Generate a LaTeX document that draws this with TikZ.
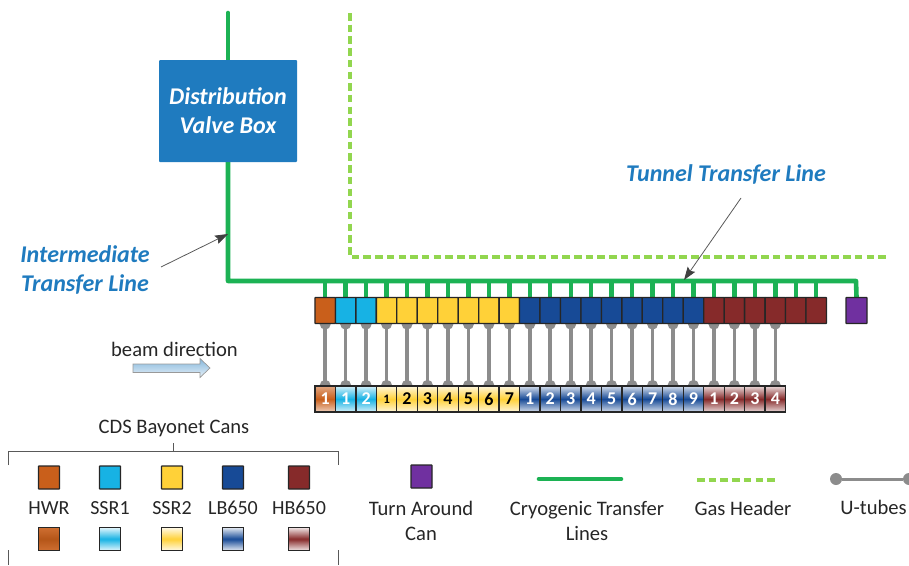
\documentclass[tikz,border=0pt]{standalone}
\usepackage{fontspec}
\setmainfont{Carlito}
\usetikzlibrary{backgrounds,arrows.meta}
\definecolor{cH}{HTML}{C95F1B}
\definecolor{cS}{HTML}{17B2E4}
\definecolor{cY}{HTML}{FFD138}
\definecolor{cL}{HTML}{174A96}
\definecolor{cR}{HTML}{862A2A}
\definecolor{cP}{HTML}{7030A0}
\definecolor{cG}{HTML}{1CB254}
\definecolor{cD}{HTML}{92D64F}
\definecolor{cB}{HTML}{1F7BBF}
\definecolor{cU}{HTML}{8C8C8C}
\definecolor{cT}{HTML}{262626}
\tikzset{
  x=1pt,y=-1pt,
  cantop/.style={draw=black!85,line width=1.3pt,minimum width=20.46pt,minimum height=26pt,inner sep=0pt,rounded corners=0.5pt,fill=#1},
  canbot/.style={draw=black!85,line width=1.3pt,minimum width=20.46pt,minimum height=26pt,inner sep=0pt,top color=#1!18,bottom color=#1!18,middle color=#1},
  hwrbot/.style={draw=black!85,line width=1.3pt,minimum width=20.46pt,minimum height=26pt,inner sep=0pt,top color=cH!55,bottom color=cH!30,middle color=cH},
  legtop/.style={draw=black!85,line width=1.3pt,minimum width=21pt,minimum height=23pt,inner sep=0pt,rounded corners=0.5pt,fill=#1},
  legbot/.style={draw=black!85,line width=1.3pt,minimum width=21pt,minimum height=23pt,inner sep=0pt,top color=#1!12,bottom color=#1!12,middle color=#1},
  cryo/.style={draw=cG,line width=4.6pt,line cap=round,line join=round},
  stub/.style={draw=cG,line width=4.4pt},
  gas/.style={draw=cD,line width=3.8pt,dash pattern=on 7.5pt off 4.2pt},
  gasleg/.style={draw=cD,line width=3.2pt,dash pattern=on 7.5pt off 4.2pt},
  utube/.style={draw=cU,line width=3.6pt},
  utubeleg/.style={draw=cU,line width=3pt},
  udot/.style={circle,fill=cU,minimum size=12pt,inner sep=0pt},
  pointer/.style={draw=black!65,line width=0.8pt,-{Stealth[length=13pt,width=9pt,inset=2pt,color=black!75]}},
  bluelab/.style={text=cB,font=\fontsize{24}{24}\selectfont\bfseries\itshape,inner sep=0pt},
  legtext/.style={text=cT,font=\fontsize{20.6}{25}\selectfont,align=center,inner sep=0pt},
  cantext/.style={text=cT,font=\fontsize{20}{24}\selectfont,inner sep=0pt},
  bracket/.style={draw=black!65,line width=1pt},
  numw/.style={text=white,font=\fontsize{18}{18}\selectfont\bfseries},
  numb/.style={text=black,font=\fontsize{18}{18}\selectfont\bfseries},
}
\begin{document}
\begin{tikzpicture}
\useasboundingbox (0,0) rectangle (909,565);
% main distribution
\node[fill=cB,minimum width=138pt,minimum height=102pt,inner sep=0pt,rounded corners=1pt] (dvb) at (228,111) {};
\node[text=white,font=\fontsize{24}{29}\selectfont\bfseries\itshape,align=center,inner sep=0pt] (dvbt) at (228,111) {Distribution\\Valve Box};
\coordinate (cryotop) at (228,13);
\coordinate (cryocorner) at (228,281);
\coordinate (cryoend) at (856,281);
\coordinate (gastop) at (350,13);
\coordinate (gascorner) at (350,257);
\coordinate (gasend) at (889,257);
\draw[gas] (gastop) -- (gascorner) -- (gasend);
% cans
\foreach \i/\c/\s/\n in {0/cH/numw/1,1/cS/numw/1,2/cS/numw/2,3/cY/numb/1,4/cY/numb/2,5/cY/numb/3,6/cY/numb/4,7/cY/numb/5,8/cY/numb/6,9/cY/numb/7,10/cL/numw/1,11/cL/numw/2,12/cL/numw/3,13/cL/numw/4,14/cL/numw/5,15/cL/numw/6,16/cL/numw/7,17/cL/numw/8,18/cL/numw/9,19/cR/numw/1,20/cR/numw/2,21/cR/numw/3,22/cR/numw/4}{
  \pgfmathsetmacro{\xx}{325.2+20.46*\i}
  \node[cantop=\c] (t\i) at (\xx,310.5) {};
  \ifnum\i=0
    \node[hwrbot,\s] (b\i) at (\xx,399) {\n};
  \else\ifnum\i=3
    \node[canbot=\c,\s,font=\fontsize{13}{13}\selectfont\bfseries] (b\i) at (\xx,399) {\n};
  \else
    \node[canbot=\c,\s] (b\i) at (\xx,399) {\n};
  \fi\fi
}
\node[cantop=cR] (t23) at (325.2+20.46*23,310.5) {};
\node[cantop=cR] (t24) at (325.2+20.46*24,310.5) {};
\node[cantop=cP,minimum width=21pt] (tac) at (856.5,310.5) {};
% connectors behind cans
\begin{scope}[on background layer]
\foreach \i in {0,...,22}{
  \draw[utube] (t\i.south) -- (b\i.north);
  \fill[cU] (t\i.south) circle (5.5pt);
  \fill[cU] (b\i.north) circle (5.5pt);
}
\foreach \i in {0,...,24}{
  \draw[stub] (t\i.north) -- (t\i.north |- cryocorner);
}
\draw[cryo] (dvb.south) -- (cryocorner) -- (cryoend) -- (tac.north);
\draw[cryo] (cryotop) -- (dvb.north);
\end{scope}
% labels and pointers
\node[bluelab,align=center] (itl) at (85,269.5) {Intermediate\\[5pt]Transfer Line};
\node[bluelab] (ttl) at (726,174) {Tunnel Transfer Line};
\coordinate (itlfrom) at (161,267);
\coordinate (itlto) at (228,234);
\coordinate (ttlfrom) at (741,198);
\coordinate (ttlto) at (684,280);
\draw[pointer] (itlfrom) -- (itlto);
\draw[pointer] (ttlfrom) -- (ttlto);
% beam direction
\node[legtext] (beamt) at (174.5,349) {beam direction};
\draw[draw=black!40,line width=0.7pt,top color=cB!55,bottom color=cB!10] (133,364) -- (200,364) -- (200,358.5) -- (210,368) -- (200,377.5) -- (200,372.5) -- (133,372.5) -- cycle;
% CDS legend
\node[legtext] (cds) at (174,428) {CDS Bayonet Cans};
\coordinate (bl1) at (8.7,465);
\coordinate (bl2) at (8.7,451);
\coordinate (br2) at (338,451);
\coordinate (br1) at (338,465);
\coordinate (bm1) at (173,451);
\coordinate (bm2) at (173,443);
\coordinate (bl3) at (8.7,550);
\coordinate (bl4) at (8.7,565);
\coordinate (br3) at (338,550);
\coordinate (br4) at (338,565);
\draw[bracket] (bl1) -- (bl2) -- (br2) -- (br1);
\draw[bracket] (bm1) -- (bm2);
\draw[bracket] (bl3) -- (bl4);
\draw[bracket] (br3) -- (br4);
\foreach \x/\c/\t in {49/cH/HWR,110/cS/SSR1,172/cY/SSR2,233/cL/LB650,299/cR/HB650}{
  \node[legtop=\c] (l\t) at (\x,477.5) {};
  \node[cantext] (lt\t) at (\x,508) {\t};
}
\node[hwrbot,minimum width=21pt,minimum height=23pt,top color=cH!90,bottom color=cH!90,middle color=cH!90!black] (mHWR) at (49,539) {};
\foreach \x/\c/\t in {110/cS/SSR1,172/cY/SSR2,233/cL/LB650,299/cR/HB650}{
  \node[legbot=\c] (m\t) at (\x,539) {};
}
% other legend items
\node[legtop=cP] (ltac) at (421.5,476.5) {};
\node[legtext] (ltact) at (421,520.5) {Turn Around\\Can};
\coordinate (lca) at (539,479);
\coordinate (lcb) at (621,479);
\draw[cryo] (lca) -- (lcb);
\node[legtext] (lcat) at (587,520.5) {Cryogenic Transfer\\Lines};
\coordinate (lga) at (697,480);
\coordinate (lgb) at (775,480);
\draw[gasleg] (lga) -- (lgb);
\node[legtext] (lgat) at (743,508) {Gas Header};
\node[udot] (ua) at (836,479) {};
\node[udot] (ub) at (909,479) {};
\draw[utubeleg] (ua) -- (ub);
\node[legtext] (ut) at (873.5,507.5) {U-tubes};
\end{tikzpicture}
\end{document}
